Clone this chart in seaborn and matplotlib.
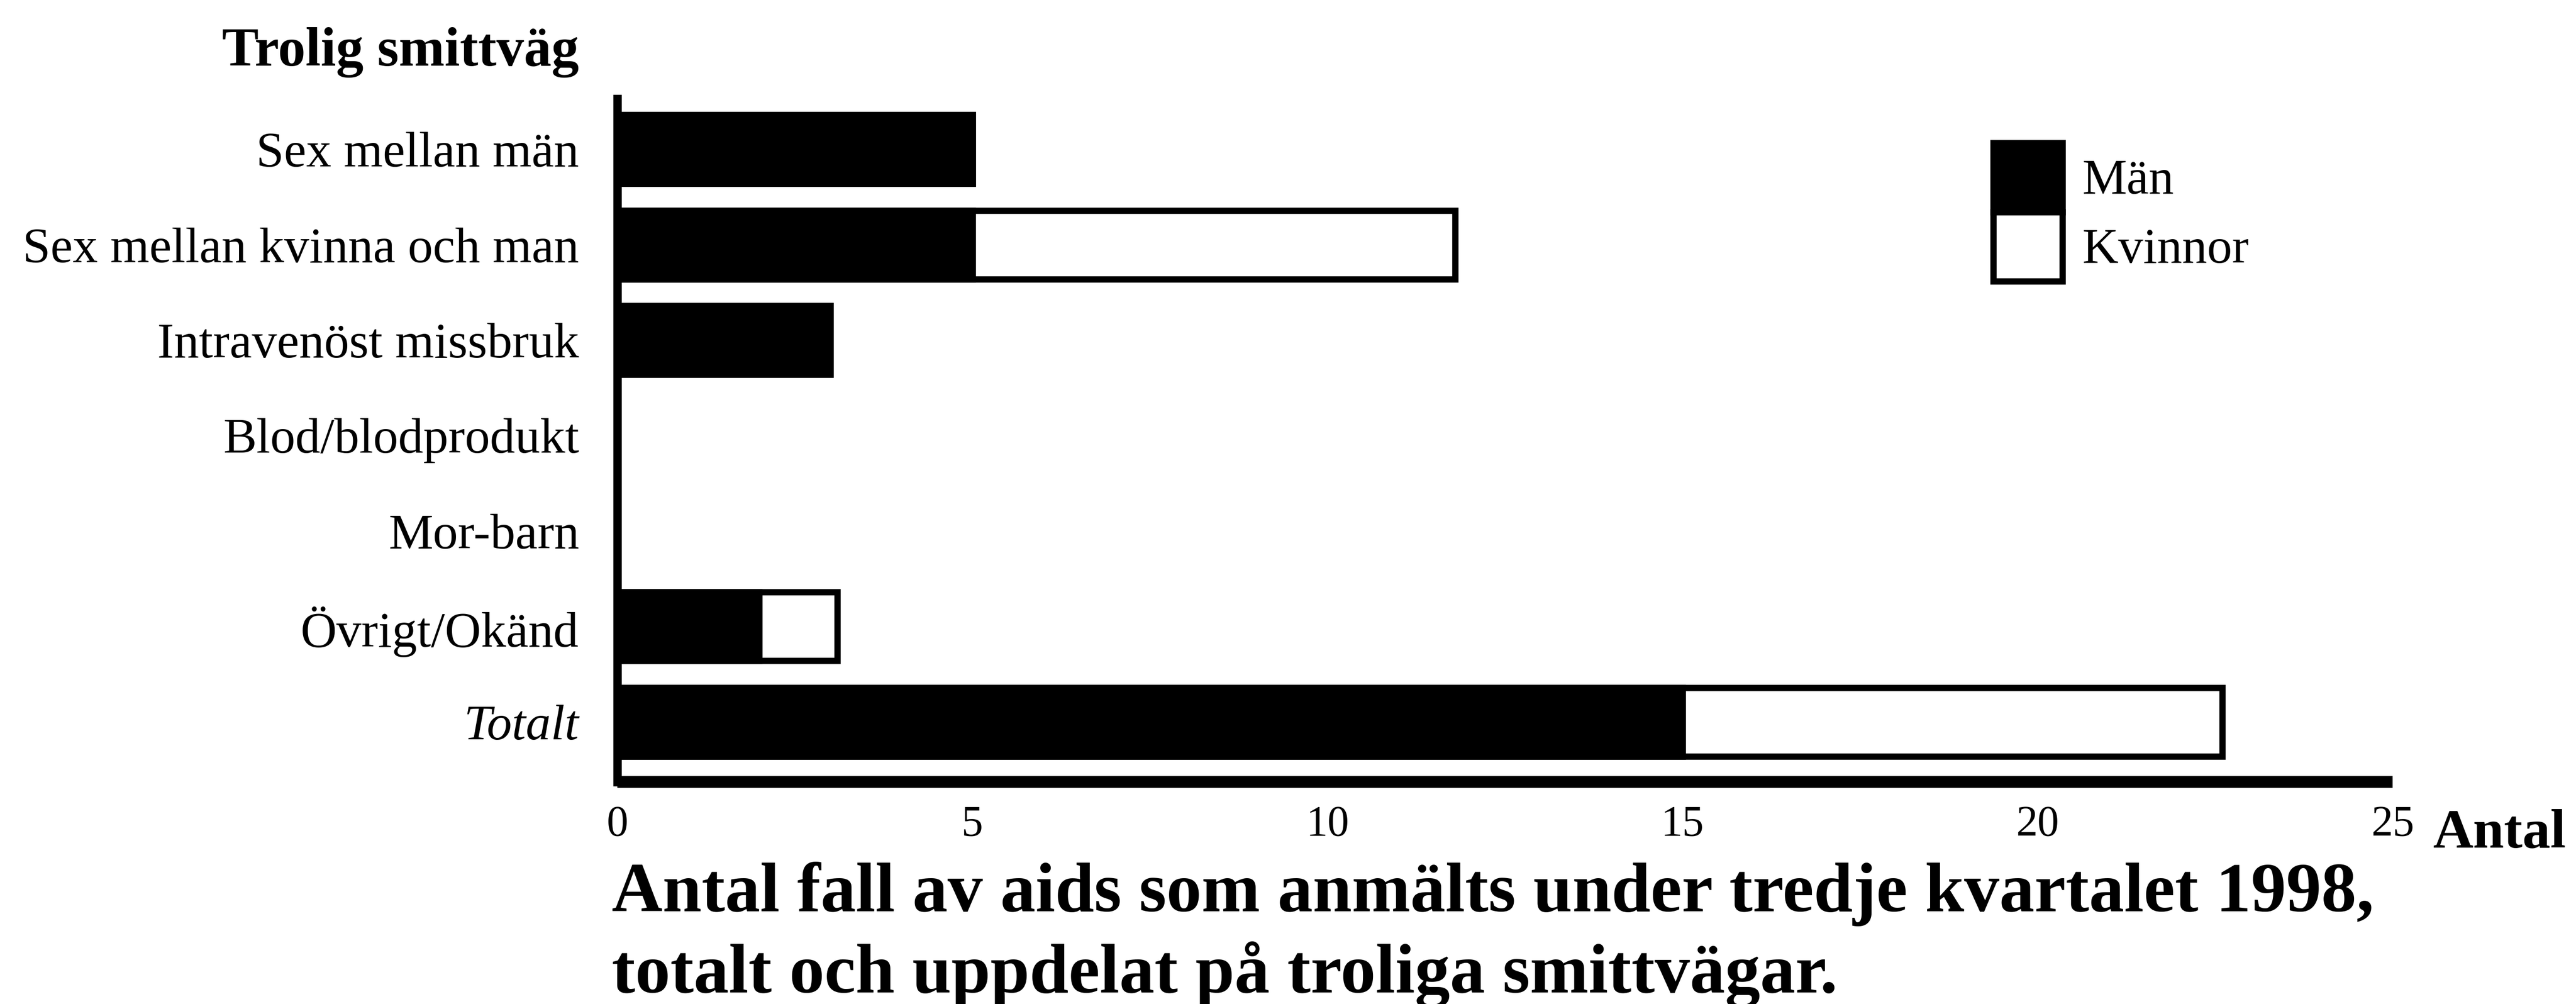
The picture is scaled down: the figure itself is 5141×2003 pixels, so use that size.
import matplotlib.pyplot as plt
import pandas as pd
import seaborn as sns

categories = ["Sex mellan män", "Sex mellan kvinna och man", "Intravenöst missbruk",
              "Blod/blodprodukt", "Mor-barn", "Övrigt/Okänd", "Totalt"]
man = [5, 5, 3, 0, 0, 2, 15]
kvinnor = [0, 6.8, 0, 0, 0, 1.1, 7.6]
x_ticks = [0, 5, 10, 15, 20, 25]

df = pd.DataFrame({"Smittväg": categories, "Män": man, "Kvinnor": kvinnor})
df["Summa"] = df["Män"] + df["Kvinnor"]

sns.set_style("white")
plt.rcParams["font.family"] = ["Liberation Serif", "DejaVu Serif"]
plt.rcParams["text.color"] = "black"
plt.rcParams["xtick.color"] = "black"
plt.rcParams["ytick.color"] = "black"

W, H = 5141, 2003
fig = plt.figure(figsize=(W / 100, H / 100), dpi=100)
left, right, top, bottom = 1232 / W, 4775 / W, 1 - 197 / H, 1 - 1560 / H
ax = fig.add_axes([left, bottom, right - left, top - bottom])

bar_kw = dict(edgecolor="black", linewidth=9, width=0.72, saturation=1, ax=ax, order=categories, orient="h")
sns.barplot(data=df[df["Summa"] > 0], y="Smittväg", x="Summa", color="white", label="Kvinnor", **bar_kw)
sns.barplot(data=df[df["Män"] > 0], y="Smittväg", x="Män", color="black", label="Män", **bar_kw)

ax.set_xlim(0, 25)
ax.set_ylim(6.63, -0.53)
ax.set_xticks(x_ticks)
ax.set_xticklabels([str(t) for t in x_ticks], fontsize=62)
ax.set_xlabel("")
ax.set_ylabel("")
ax.tick_params(axis="y", length=0, pad=55, labelsize=72)
ax.tick_params(axis="x", length=23, width=16, direction="out", pad=10)
ax.get_yticklabels()[-1].set_fontstyle("italic")

for side in ["top", "right"]:
    ax.spines[side].set_visible(False)
ax.spines["left"].set_linewidth(12)
ax.spines["bottom"].set_linewidth(17)
ax.spines["left"].set_color("black")
ax.spines["bottom"].set_color("black")
ax.spines["bottom"].set_capstyle("butt")

handles, labels = ax.get_legend_handles_labels()
ax.legend(handles[::-1], labels[::-1], loc="upper left", bbox_to_anchor=(3978 / W, 1 - 285 / H),
          bbox_transform=fig.transFigure, frameon=False, fontsize=72, borderpad=0, borderaxespad=0,
          handlelength=1.38, handleheight=1.746, labelspacing=0, handletextpad=0.39)

fig.text(1155 / W, 1 - 131 / H, "Trolig smittväg", ha="right", va="baseline", fontsize=79, fontweight="bold")
fig.text(4856 / W, 1 - 1690 / H, "Antal", ha="left", va="baseline", fontsize=80, fontweight="bold")
fig.text(1221 / W, 1 - 1818 / H, "Antal fall av aids som anmälts under tredje kvartalet 1998,",
         ha="left", va="baseline", fontsize=101, fontweight="bold")
fig.text(1221 / W, 1 - 1980 / H, "totalt och uppdelat på troliga smittvägar.",
         ha="left", va="baseline", fontsize=101, fontweight="bold")

fig.savefig("out.png", dpi=100, facecolor="white")
